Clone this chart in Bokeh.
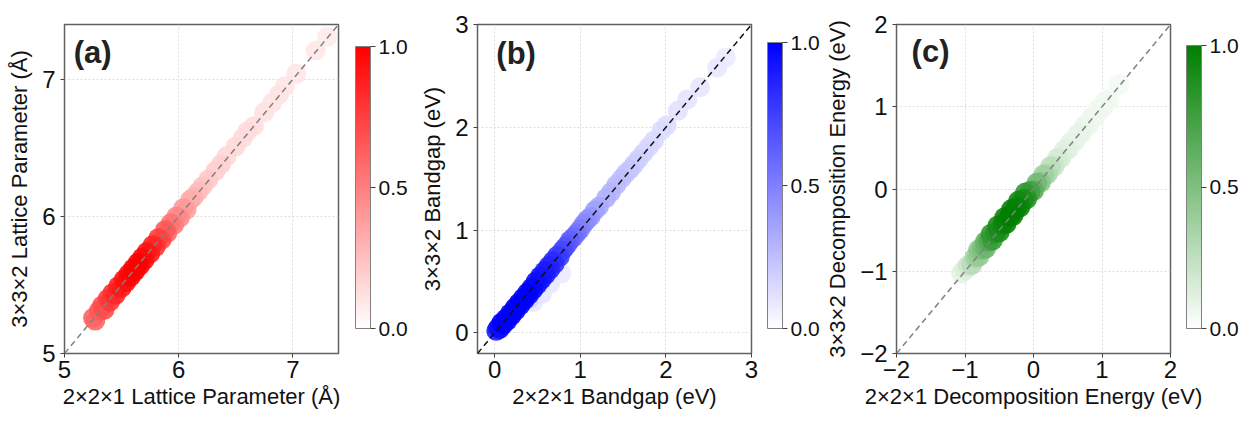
import numpy as np
from bokeh.plotting import figure
from bokeh.layouts import row
from bokeh.models import (ColumnDataSource, LinearColorMapper, ColorBar, FixedTicker,
                          Label, PrintfTickFormatter, Range1d)
from bokeh.embed import file_html
from bokeh.resources import INLINE

FONT = "Liberation Sans"

# ---------------- Panel (a): lattice parameter (Angstrom) ----------------
a_x = [5.25, 5.27, 5.30, 5.33, 5.35, 5.38, 5.40, 5.42, 5.45, 5.47, 5.50, 5.52, 5.54, 5.56,
       5.58, 5.60, 5.62, 5.64, 5.66, 5.68, 5.70, 5.72, 5.75, 5.77, 5.80, 5.82, 5.85, 5.88,
       5.90, 5.93, 5.96, 5.98, 6.01, 6.04, 6.07, 6.10, 6.13, 6.17, 6.21, 6.26, 6.32, 6.37,
       6.42, 6.50, 6.56, 6.60, 6.66, 6.75, 6.82, 6.88, 6.93, 7.03, 7.20, 7.30]
a_y = [5.26, 5.24, 5.31, 5.35, 5.32, 5.40, 5.38, 5.44, 5.43, 5.49, 5.48, 5.54, 5.52, 5.58,
       5.56, 5.62, 5.60, 5.66, 5.64, 5.70, 5.68, 5.74, 5.73, 5.79, 5.78, 5.84, 5.83, 5.90,
       5.88, 5.95, 5.94, 6.00, 5.99, 6.06, 6.05, 6.12, 6.14, 6.18, 6.22, 6.27, 6.33, 6.38,
       6.44, 6.51, 6.57, 6.62, 6.66, 6.76, 6.83, 6.89, 6.95, 7.04, 7.21, 7.31]
a_d = [0.60, 0.60, 0.65, 0.70, 0.70, 0.75, 0.78, 0.80, 0.85, 0.87, 0.90, 0.92, 0.94, 0.96,
       0.98, 1.00, 1.00, 1.00, 0.98, 0.96, 0.94, 0.92, 0.88, 0.85, 0.80, 0.75, 0.70, 0.65,
       0.60, 0.55, 0.50, 0.47, 0.45, 0.40, 0.36, 0.33, 0.30, 0.26, 0.24, 0.21, 0.19, 0.18,
       0.16, 0.15, 0.14, 0.14, 0.13, 0.12, 0.11, 0.11, 0.10, 0.10, 0.09, 0.08]
a_ticks = [5, 6, 7]

# ---------------- Panel (b): bandgap (eV) ----------------
b_x = [0.02, 0.04, 0.06, 0.08, 0.10, 0.13, 0.15, 0.18, 0.20, 0.23, 0.25, 0.28, 0.30, 0.33,
       0.35, 0.38, 0.40, 0.43, 0.45, 0.48, 0.50, 0.53, 0.55, 0.58, 0.60, 0.63, 0.65, 0.68,
       0.70, 0.73, 0.76, 0.79, 0.82, 0.85, 0.88, 0.92, 0.96, 1.00, 1.04, 1.08, 1.12, 1.17,
       1.22, 1.30, 1.36, 1.42, 1.48, 1.53, 1.58, 1.63, 1.68, 1.74, 1.80, 1.86, 1.95, 2.01,
       2.14, 2.25, 2.40, 2.60, 2.70, 0.45, 0.55, 0.78, 0.65, 0.40]
b_y = [0.02, 0.05, 0.04, 0.10, 0.08, 0.14, 0.12, 0.19, 0.17, 0.24, 0.22, 0.29, 0.27, 0.34,
       0.32, 0.39, 0.37, 0.44, 0.42, 0.50, 0.47, 0.55, 0.52, 0.60, 0.57, 0.65, 0.62, 0.70,
       0.67, 0.75, 0.74, 0.80, 0.83, 0.86, 0.90, 0.93, 0.97, 1.01, 1.06, 1.10, 1.13, 1.19,
       1.23, 1.31, 1.37, 1.44, 1.50, 1.55, 1.59, 1.64, 1.69, 1.75, 1.81, 1.87, 1.97, 2.02,
       2.16, 2.27, 2.39, 2.58, 2.68, 0.30, 0.38, 0.58, 0.48, 0.33]
b_d = [0.90, 0.95, 0.95, 1.00, 1.00, 1.00, 1.00, 1.00, 1.00, 1.00, 1.00, 1.00, 1.00, 1.00,
       1.00, 1.00, 0.98, 0.97, 0.96, 0.95, 0.94, 0.92, 0.92, 0.90, 0.88, 0.87, 0.85, 0.83,
       0.81, 0.78, 0.75, 0.72, 0.68, 0.65, 0.62, 0.58, 0.55, 0.50, 0.47, 0.44, 0.41, 0.37,
       0.34, 0.31, 0.29, 0.27, 0.25, 0.23, 0.22, 0.20, 0.19, 0.17, 0.16, 0.15, 0.14, 0.13,
       0.12, 0.11, 0.10, 0.09, 0.08, 0.10, 0.10, 0.08, 0.09, 0.18]
b_ticks = [0, 1, 2, 3]

# ---------------- Panel (c): decomposition energy (eV) ----------------
c_x = [-1.05, -1.00, -0.95, -0.90, -0.85, -0.80, -0.75, -0.70, -0.65, -0.60, -0.55, -0.50,
       -0.45, -0.40, -0.35, -0.30, -0.25, -0.20, -0.15, -0.10, -0.05, 0.00, 0.05, 0.10,
       0.15, 0.20, 0.25, 0.30, 0.35, 0.40, 0.45, 0.50, 0.55, 0.60, 0.65, 0.70, 0.75, 0.80,
       0.85, 0.90, 0.95, 1.00, 1.05, 1.10, 1.25,
       -0.62, -0.52, -0.42, -0.32, -0.22, -0.12, -0.80, -0.70]
c_y = [-1.02, -0.98, -0.93, -0.92, -0.83, -0.82, -0.73, -0.72, -0.63, -0.62, -0.53, -0.52,
       -0.43, -0.42, -0.33, -0.32, -0.23, -0.22, -0.13, -0.12, -0.03, -0.02, 0.07, 0.08,
       0.17, 0.18, 0.27, 0.28, 0.37, 0.38, 0.47, 0.48, 0.57, 0.58, 0.67, 0.68, 0.77, 0.78,
       0.87, 0.88, 0.97, 0.98, 1.07, 1.08, 1.27,
       -0.55, -0.45, -0.35, -0.25, -0.15, -0.05, -0.74, -0.64]
c_d = [0.10, 0.14, 0.20, 0.28, 0.36, 0.42, 0.50, 0.58, 0.68, 0.78, 0.85, 0.90,
       0.94, 0.97, 1.00, 1.00, 0.98, 0.95, 0.90, 0.84, 0.74, 0.64, 0.55, 0.45,
       0.38, 0.31, 0.26, 0.21, 0.17, 0.14, 0.12, 0.11, 0.10, 0.09, 0.09, 0.08, 0.08, 0.07,
       0.07, 0.07, 0.06, 0.06, 0.06, 0.05, 0.05,
       0.80, 0.90, 0.96, 0.98, 0.93, 0.80, 0.45, 0.60]
c_ticks = [-2, -1, 0, 1, 2]

cb_ticks = [0.0, 0.5, 1.0]


def white_to(rgb):
    pal = []
    for i in range(256):
        t = i / 255.0
        pal.append("#%02x%02x%02x" % tuple(int(round(255 + (c - 255) * t)) for c in rgb))
    return pal


def panel(xs, ys, ds, lo, hi, ticks, xlabel, ylabel, letter, lpos, rgb, diag_color,
          width, borders, cb_loc, cb_h, msize):
    left, right, top, bottom = borders
    p = figure(width=width, height=422, output_backend="svg", toolbar_location=None,
               x_range=Range1d(lo, hi), y_range=Range1d(lo, hi),
               min_border_left=left, min_border_right=right,
               min_border_top=top, min_border_bottom=bottom)
    p.background_fill_color = "white"
    p.border_fill_color = "white"
    p.outline_line_color = "#606060"
    p.outline_line_width = 1.5
    p.grid.grid_line_color = "#d4d4d4"
    p.grid.grid_line_dash = "2 2"
    p.grid.grid_line_width = 0.8
    p.xaxis.ticker = FixedTicker(ticks=ticks)
    p.yaxis.ticker = FixedTicker(ticks=ticks)
    p.xgrid.ticker = FixedTicker(ticks=ticks)
    p.ygrid.ticker = FixedTicker(ticks=ticks)
    for ax in (p.xaxis[0], p.yaxis[0]):
        ax.axis_line_color = None
        ax.major_tick_line_color = "#404040"
        ax.major_tick_out = 4
        ax.major_tick_in = 0
        ax.minor_tick_line_color = None
        ax.major_label_text_font = FONT
        ax.major_label_text_font_size = "24px"
        ax.major_label_text_color = "#111111"
        ax.axis_label_text_font = FONT
        ax.axis_label_text_font_size = "22px"
        ax.axis_label_text_font_style = "normal"
        ax.axis_label_text_color = "#111111"
    p.xaxis.axis_label = xlabel
    p.yaxis.axis_label = ylabel
    p.xaxis.major_label_standoff = 3
    p.yaxis.major_label_standoff = 5
    p.xaxis.axis_label_standoff = 3
    p.yaxis.axis_label_standoff = 7
    p.xaxis.major_label_overrides = {t: str(t).replace("-", "\u2212") for t in ticks}
    p.yaxis.major_label_overrides = {t: str(t).replace("-", "\u2212") for t in ticks}

    order = np.argsort(np.array(ds), kind="stable")
    src = ColumnDataSource(dict(x=[xs[i] for i in order], y=[ys[i] for i in order],
                                d=[ds[i] for i in order]))
    mapper = LinearColorMapper(palette=white_to(rgb), low=0.0, high=1.0)
    p.scatter("x", "y", source=src, size=msize, line_color=None,
              fill_color={"field": "d", "transform": mapper}, fill_alpha=0.9)
    p.line([lo, hi], [lo, hi], line_color=diag_color, line_dash="6 4", line_width=1.5)

    p.add_layout(Label(x=lpos[0], y=lpos[1], text=letter, text_font=FONT,
                       text_font_size="31px", text_font_style="bold",
                       text_color="#222222", text_baseline="top"))

    cb = ColorBar(color_mapper=mapper, ticker=FixedTicker(ticks=cb_ticks),
                  formatter=PrintfTickFormatter(format="%.1f"),
                  width=15, height=cb_h, location=cb_loc, padding=0,
                  major_label_text_font=FONT, major_label_text_font_size="21px",
                  major_label_text_color="#111111",
                  major_tick_line_color="#404040", major_tick_out=5, major_tick_in=0,
                  minor_tick_line_color=None, label_standoff=3,
                  bar_line_color="#808080", bar_line_width=1,
                  background_fill_alpha=0, border_line_color=None)
    p.add_layout(cb, "right")
    return p


pa = panel(a_x, a_y, a_d, 5.0, 7.4, a_ticks,
           "2\u00d72\u00d71 Lattice Parameter (\u00c5)", "3\u00d73\u00d72 Lattice Parameter (\u00c5)",
           "(a)", (5.08, 7.32), (255, 0, 0), "#808080",
           410, (64, 71, 24, 66), (17, 25), 282, 20)
pb = panel(b_x, b_y, b_d, -0.2, 3.0, b_ticks,
           "2\u00d72\u00d71 Bandgap (eV)", "3\u00d73\u00d72 Bandgap (eV)",
           "(b)", (0.02, 2.89), (0, 0, 255), "#111111",
           412, (67, 64, 22, 63), (16, 25), 286, 20)
pc = panel(c_x, c_y, c_d, -2.0, 2.0, c_ticks,
           "2\u00d72\u00d71 Decomposition Energy (eV)", "3\u00d73\u00d72 Decomposition Energy (eV)",
           "(c)", (-1.78, 1.88), (0, 128, 0), "#808080",
           420, (74, 72, 20, 69), (16, 25), 283, 21)

layout = row(pa, pb, pc)
open("out.html", "w").write(file_html(layout, INLINE))
